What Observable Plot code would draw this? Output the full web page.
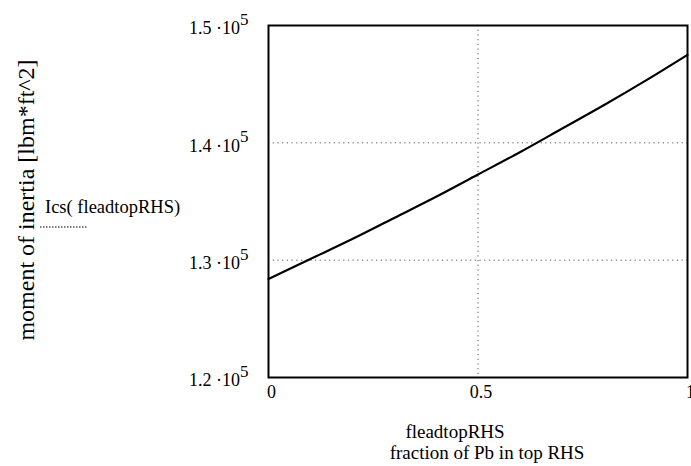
<!DOCTYPE html>
<html>
<head>
<meta charset="utf-8">
<script src="https://cdn.jsdelivr.net/npm/d3@7"></script>
<script src="https://cdn.jsdelivr.net/npm/@observablehq/plot@0.6"></script>
<style>
  html, body { margin: 0; padding: 0; background: #fff; }
  #chart { width: 691px; height: 466px; }
  svg { font-family: "Liberation Serif", "DejaVu Serif", serif; }
</style>
</head>
<body>
<div id="chart"></div>
<script>
// Data
const fleadtopRHS = [0, 0.1, 0.2, 0.3, 0.4, 0.5, 0.6, 0.7, 0.8, 0.9, 1.0];
const Ics = [128400, 130100, 131800, 133600, 135400, 137300, 139200, 141200, 143200, 145300, 147500];
const yTicks = [120000, 130000, 140000, 150000];
const yTickMantissa = ["1.2", "1.3", "1.4", "1.5"];
const xTicks = [0, 0.5, 1];
const xTickLabels = ["0", "0.5", "1"];
const seriesName = "Ics( fleadtopRHS)";
const yLabel = "moment of inertia [lbm*ft^2]";
const xLabel1 = "fleadtopRHS";
const xLabel2 = "fraction of Pb in top RHS";

const data = fleadtopRHS.map((x, i) => ({x, y: Ics[i]}));

const plot = Plot.plot({
  width: 691,
  height: 466,
  marginLeft: 268,
  marginRight: 4,
  marginTop: 25,
  marginBottom: 89,
  style: {fontFamily: "Liberation Serif", fontSize: "18px", background: "#fff", color: "#000"},
  x: {domain: [0, 1]},
  y: {domain: [120000, 150000]},
  marks: [
    Plot.ruleY(yTicks.slice(1, 3), {stroke: "#555", strokeDasharray: "1.2,3.5", strokeWidth: 1}),
    Plot.ruleX([0.5], {stroke: "#555", strokeDasharray: "1.2,3.5", strokeWidth: 1}),
    Plot.line(data, {x: "x", y: "y", stroke: "#000", strokeWidth: 2.2, curve: "monotone-x"}),
    Plot.frame({stroke: "#000", strokeWidth: 2}),
    Plot.axisY({ticks: yTicks, tickSize: 0, tickPadding: 20, fontSize: 18, dy: 3,
      tickFormat: d => yTickMantissa[yTicks.indexOf(d)] + " \u00b710|5", label: null}),
    Plot.axisX({ticks: xTicks, tickSize: 0, tickPadding: 8, fontSize: 18, dx: 3,
      tickFormat: d => xTickLabels[xTicks.indexOf(d)], label: null})
  ]
});

const svg = d3.select(plot);
// superscript exponents
svg.selectAll('g[aria-label="y-axis tick label"] text').each(function() {
  const t = d3.select(this);
  const s = t.text();
  const [base, exp] = s.split("|");
  t.text(null);
  t.append("tspan").text(base);
  t.append("tspan").attr("dy", "-0.55em").attr("font-size", "17px").text(exp);
});

// y axis title
svg.append("text")
  .attr("transform", "translate(28,200) rotate(-90)")
  .attr("text-anchor", "middle")
  .attr("dominant-baseline", "middle")
  .attr("font-size", 24)
  .attr("fill", "#000")
  .text(yLabel);

// x axis titles
svg.append("text").attr("x", 455).attr("y", 438).attr("text-anchor", "middle")
  .attr("font-size", 19).attr("fill", "#000").text(xLabel1);
svg.append("text").attr("x", 487).attr("y", 459).attr("text-anchor", "middle")
  .attr("font-size", 19).attr("fill", "#000").text(xLabel2);

// legend
svg.append("text").attr("x", 45).attr("y", 213).attr("text-anchor", "start")
  .attr("font-size", 18.5).attr("fill", "#000").text(seriesName);
svg.append("line").attr("x1", 40).attr("x2", 88).attr("y1", 227).attr("y2", 227)
  .attr("stroke", "#000").attr("stroke-width", 1).attr("stroke-dasharray", "1.5,1.5");

document.getElementById("chart").appendChild(plot);
</script>
</body>
</html>
